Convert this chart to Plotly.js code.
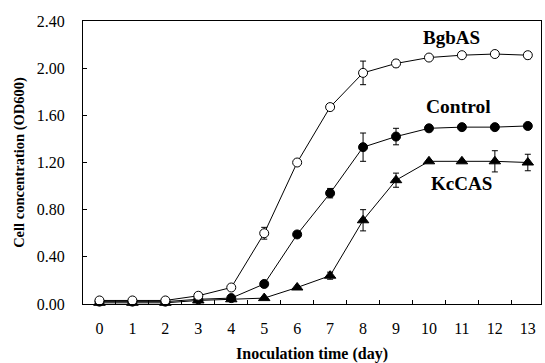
<!DOCTYPE html>
<html>
<head>
<meta charset="utf-8">
<script src="https://cdn.plot.ly/plotly-3.0.1.min.js"></script>
<style>html,body{margin:0;padding:0;background:#fff}#chart{width:545px;height:363px}</style>
</head>
<body>
<div id="chart"></div>
<script>
const days = ['0','1','2','3','4','5','6','7','8','9','10','11','12','13'];
const bgbAS   = [0.03,0.03,0.03,0.07,0.14,0.60,1.20,1.67,1.96,2.04,2.09,2.11,2.12,2.11];
const bgbErr  = [0,0,0,0,0,0.05,0,0,0.10,0.03,0,0,0,0.03];
const control = [0.02,0.02,0.02,0.04,0.05,0.17,0.59,0.94,1.33,1.42,1.49,1.50,1.50,1.51];
const ctrlErr = [0,0,0,0,0,0,0,0.04,0.12,0.07,0,0,0,0];
const kcCAS   = [0.01,0.01,0.01,0.03,0.04,0.05,0.14,0.24,0.71,1.05,1.21,1.21,1.21,1.20];
const kcErr   = [0,0,0,0,0,0,0,0.03,0.09,0.06,0,0,0.09,0.07];
const labels  = ['BgbAS','Control','KcCAS'];

const font = '"Liberation Serif", "Times New Roman", Times, serif';
function tr(y, err, sym, fill){
  return {x: days, y: y, type:'scatter', mode:'lines+markers',
    line:{color:'#000', width:1},
    marker:{symbol:sym, size: sym==='triangle-up'?10:9, color:fill, line:{color:'#000', width:1}},
    error_y:{type:'data', array:err, visible:true, color:'#000', thickness:1, width:3},
    showlegend:false, cliponaxis:false};
}
const data = [
  tr(kcCAS, kcErr, 'triangle-up', '#000'),
  tr(control, ctrlErr, 'circle', '#000'),
  tr(bgbAS, bgbErr, 'circle', '#fff')
];
const layout = {
  width:545, height:363,
  margin:{l:83, r:4, t:21, b:59},
  paper_bgcolor:'#fff', plot_bgcolor:'#fff',
  font:{family:font, color:'#000', size:16},
  xaxis:{type:'category', range:[-0.5, 13.4], tickson:'boundaries', ticks:'inside', ticklen:4,
    tickcolor:'#000', showline:true, linecolor:'#000', linewidth:1, mirror:true, showgrid:false,
    zeroline:false, tickfont:{size:16, family:font}, ticklabelstandoff:10,
    title:{text:'<b>Inoculation time (day)</b>', font:{size:16, family:font}, standoff:17}},
  yaxis:{range:[0,2.4], dtick:0.4, tick0:0, tickformat:'.2f', ticks:'inside', ticklen:4,
    tickcolor:'#000', showline:true, linecolor:'#000', linewidth:1, mirror:true, showgrid:false,
    zeroline:false, tickfont:{size:16, family:font}, ticklabelstandoff:14,
    title:{text:'<b>Cell concentration (OD600)</b>', font:{size:14.5, family:font}, standoff:8}},
  annotations:[
    {x:10.69, y:2.262, xref:'x', yref:'y', text:'<b>'+labels[0]+'</b>', showarrow:false, font:{size:19, family:font}},
    {x:10.9, y:1.677, xref:'x', yref:'y', text:'<b>'+labels[1]+'</b>', showarrow:false, font:{size:19.5, family:font}},
    {x:10.99, y:1.024, xref:'x', yref:'y', text:'<b>'+labels[2]+'</b>', showarrow:false, font:{size:19, family:font}}
  ]
};
Plotly.newPlot('chart', data, layout, {displayModeBar:false, staticPlot:true});
</script>
</body>
</html>
